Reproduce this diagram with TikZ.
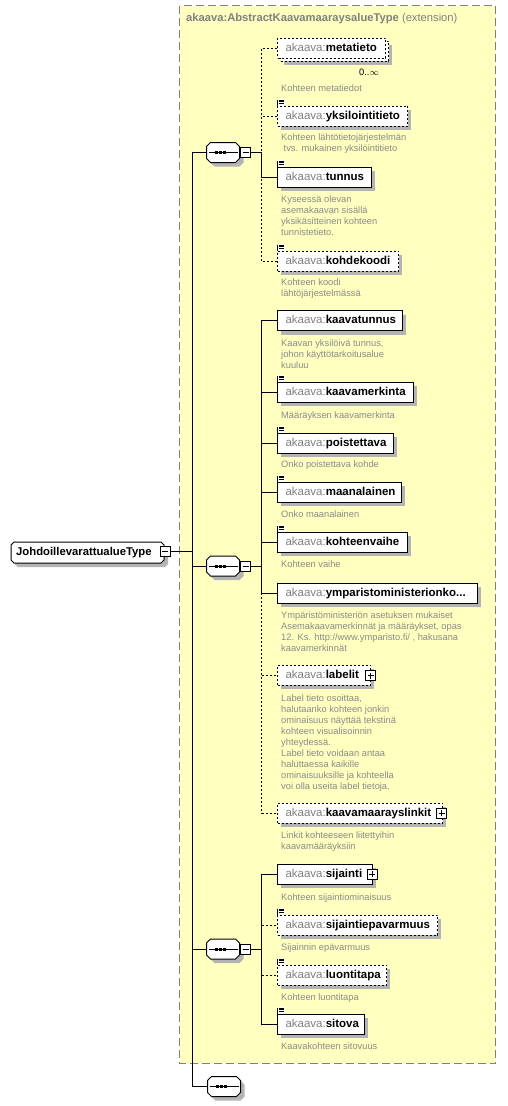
\documentclass[tikz,border=0pt]{standalone}
\usepackage{fontspec}
\setmainfont{Liberation Sans}
\definecolor{yel}{HTML}{FFFFC0}
\definecolor{bordergray}{HTML}{808080}
\definecolor{pfxgray}{HTML}{808080}
\definecolor{docgray}{HTML}{8A8A8A}
\definecolor{shadowgray}{HTML}{B4B4B4}
\newcommand\nm[1]{{\color{pfxgray}akaava:}\textbf{#1}}
\newcommand\el[2]{\makebox[#1pt][l]{\hspace*{8pt}\nm{#2}}}
% element: name, x, yc, width, style, label
\newcommand\E[6]{%
  \fill[shadowgray] ({#2+4},{#3-6}) rectangle ({#2+#4+4},{#3+14});
  \node[#5] (#1) at (#2,#3) {\el{#4}{#6}};}
\newcommand\elicon[1]{%
  \fill[white] ([xshift=0.5pt]#1.north west) rectangle ++(7.5,-6.5);
  \draw[line width=1pt] ([yshift=-0.5pt]#1.north west) -- ++(0,-6.5);
  \draw[line width=0.8pt] ([xshift=1.5pt,yshift=5.6pt]#1.north west) -- ++(5,0);
  \draw[line width=0.8pt] ([xshift=1.5pt,yshift=3.9pt]#1.north west) -- ++(5,0);
  \draw[line width=0.8pt] ([xshift=1.5pt,yshift=2.2pt]#1.north west) -- ++(5,0);}
\newcommand\minusbox[2]{\node[pm] (#1) at #2 {};
  \draw[line width=1pt] ([xshift=-3pt]#1.center) -- ([xshift=3pt]#1.center);}
\newcommand\plusbox[2]{\node[pm] (#1) at #2 {};
  \draw[line width=1pt] ([xshift=-3pt]#1.center) -- ([xshift=3pt]#1.center);
  \draw[line width=1pt] ([yshift=-3pt]#1.center) -- ([yshift=3pt]#1.center);}
% sequence compositor: name, x, y
\newcommand\seqnode[3]{%
  \node[inner sep=0pt, minimum width=33pt, minimum height=20pt] (#1) at (#2,#3) {};
  \begin{scope}[shift={(#1.center)}]
  \fill[shadowgray] (-12.5,-6) -- (-8.5,-6) -- (16.5,-6) -- (20.5,-2) -- (20.5,10) -- (16.5,14) -- (-8.5,14) -- (-12.5,10) -- cycle;
  \draw[line width=1pt, fill=white] (-16.5,-6) -- (-12.5,-10) -- (12.5,-10) -- (16.5,-6) -- (16.5,6) -- (12.5,10) -- (-12.5,10) -- (-16.5,6) -- cycle;
  \draw[line width=1pt] (-14.5,0) -- (14.5,0);
  \fill (-8,-1.5) rectangle (-5,1.5);
  \fill (-3.8,-1.5) rectangle (-0.8,1.5);
  \fill (0.4,-1.5) rectangle (3.4,1.5);
  \end{scope}}
\tikzset{
  elem/.style={draw=black, fill=white, line width=1pt, rectangle, inner sep=0pt,
    minimum height=20pt, anchor=west, font=\fontsize{11.5}{13}\selectfont,
    text height=8.5pt, text depth=2.5pt},
  optelem/.style={elem, dash pattern=on 2pt off 2pt},
  doc/.style={anchor=north west, inner sep=0pt, align=left, text=docgray,
    font=\fontsize{9.3}{11}\selectfont},
  pm/.style={draw, fill=white, line width=1pt, minimum size=10pt, inner sep=0pt},
  con/.style={line width=1pt},
  optcon/.style={line width=1pt, dash pattern=on 2pt off 2pt},
}
\begin{document}
\begin{tikzpicture}[x=1pt,y=-1pt]
\useasboundingbox (0,0) rectangle (507,1106);
% extension frame
\draw[bordergray, fill=yel, line width=1pt, dash pattern=on 8pt off 4pt] (179.5,5.5) rectangle (495.5,1063.5);
\node[anchor=west, inner sep=0pt, text=pfxgray, font=\fontsize{11.2}{13}\selectfont] (title) at (186,18.5)
  {\textbf{akaava:AbstractKaavamaaraysalueType} (extension)};
\coordinate (trunk) at (192,0);
\coordinate (br) at (261.5,0);
% root
\node[inner sep=0pt, minimum width=153pt, minimum height=21pt] (root) at (87.5,552.5) {};
\begin{scope}[shift={(root.center)}]
\fill[shadowgray] (-72.5,-6.5) -- (77.5,-6.5) -- (80.5,-3.5) -- (80.5,11.5) -- (77.5,14.5) -- (-69.5,14.5) -- (-72.5,11.5) -- cycle;
\draw[line width=1pt, fill=white] (-76.5,-7.5) -- (-73.5,-10.5) -- (73.5,-10.5) -- (76.5,-7.5) -- (76.5,7.5) -- (73.5,10.5) -- (-73.5,10.5) -- (-76.5,7.5) -- cycle;
\end{scope}
\node[anchor=west, inner sep=0pt, font=\fontsize{11.3}{13}\selectfont\bfseries] (rootlabel) at (16,552.5) {JohdoillevarattualueType};
\minusbox{rootm}{(165,551)}
% sequences
\seqnode{s1}{223}{152.5}
\minusbox{s1m}{(245.5,152.5)}
\seqnode{s2}{223}{566}
\minusbox{s2m}{(245.5,566)}
\seqnode{s3}{223}{949}
\minusbox{s3m}{(245.5,949)}
\seqnode{s4}{224}{1086.5}
% trunk connectors
\draw[con] (rootm.east) -- (rootm.east -| trunk);
\draw[con] (s1.west -| trunk) -- (s4.west -| trunk);
\draw[con] (s1.west -| trunk) -- (s1.west);
\draw[con] (s2.west -| trunk) -- (s2.west);
\draw[con] (s3.west -| trunk) -- (s3.west);
\draw[con] (s4.west -| trunk) -- (s4.west);
\draw[con] (s1m.east) -- (s1m.east -| br);
\draw[con] (s2m.east) -- (s2m.east -| br);
\draw[con] (s3m.east) -- (s3m.east -| br);
% ---- sequence 1
\fill[shadowgray] (284,45) rectangle (392,65);
\node[optelem, minimum width=108pt] (metaback) at (280,51) {};
\node[optelem] (metatieto) at (277,48) {\el{108}{metatieto}};
\node[inner sep=0pt, font=\fontsize{9.3}{11}\selectfont] (mult) at (369,72) {0..$\infty$};
\node[doc] (dmeta) at (281,84.5) {Kohteen metatiedot};
\E{yksil}{277}{116}{130}{optelem}{yksilointitieto} \elicon{yksil}
\node[doc] (dyksil) at (281,133.5) {Kohteen lähtötietojärjestelmän\\\hspace*{2.5pt}tvs. mukainen yksilöintitieto};
\E{tunnus}{277}{177}{94}{elem}{tunnus} \elicon{tunnus}
\node[doc] (dtunnus) at (281,195.5) {Kyseessä olevan\\asemakaavan sisällä\\yksikäsitteinen kohteen\\tunnistetieto.};
\E{kohdekoodi}{277}{261}{121}{optelem}{kohdekoodi} \elicon{kohdekoodi}
\node[doc] (dkohdekoodi) at (281,278.2) {Kohteen koodi\\lähtöjärjestelmässä};
\draw[optcon] (metatieto.west) -- (metatieto.west -| br) -- (s1m.east -| br);
\draw[optcon] (yksil.west) -- (yksil.west -| br);
\draw[con] (tunnus.west) -- (tunnus.west -| br) -- (s1m.east -| br);
\draw[optcon] (kohdekoodi.west) -- (kohdekoodi.west -| br) -- (tunnus.west -| br);
% ---- sequence 2
\E{kaavatunnus}{277}{320.5}{125}{elem}{kaavatunnus}
\node[doc] (dkaavatunnus) at (281,339.8) {Kaavan yksilöivä tunnus,\\johon käyttötarkoitusalue\\kuuluu};
\E{kaavamerkinta}{277}{392}{136}{elem}{kaavamerkinta} \elicon{kaavamerkinta}
\node[doc] (dkaavamerkinta) at (281,411.5) {Määräyksen kaavamerkinta};
\E{poistettava}{277}{443}{116}{elem}{poistettava} \elicon{poistettava}
\node[doc] (dpoistettava) at (281,460.8) {Onko poistettava kohde};
\E{maanalainen}{277}{492}{124}{elem}{maanalainen} \elicon{maanalainen}
\node[doc] (dmaanalainen) at (281,510.8) {Onko maanalainen};
\E{kohteenvaihe}{277}{542}{130}{elem}{kohteenvaihe} \elicon{kohteenvaihe}
\node[doc] (dkohteenvaihe) at (281,560.8) {Kohteen vaihe};
\E{ymp}{277}{593}{200}{elem}{ymparistoministerionko...}
\node[doc] (dymp) at (281,611.5) {Ympäristöministeriön asetuksen mukaiset\\Asemakaavamerkinnät ja määräykset, opas\\12. Ks. http://www.ymparisto.fi/ , hakusana\\kaavamerkinnät};
\E{labelit}{277}{675}{93}{optelem}{labelit}
\plusbox{labelitp}{(370.5,675.5)}
\node[doc] (dlabelit) at (281,694.2) {Label tieto osoittaa,\\halutaanko kohteen jonkin\\ominaisuus näyttää tekstinä\\kohteen visualisoinnin\\yhteydessä.\\Label tieto voidaan antaa\\haluttaessa kaikille\\ominaisuuksille ja kohteella\\voi olla useita label tietoja.};
\E{linkit}{277}{813}{165}{optelem}{kaavamaarayslinkit}
\plusbox{linkitp}{(441.7,813.3)}
\node[doc] (dlinkit) at (281,831.5) {Linkit kohteeseen liitettyihin\\kaavamääräyksiin};
\draw[con] (kaavatunnus.west) -- (kaavatunnus.west -| br) -- (ymp.west -| br) -- (ymp.west);
\draw[con] (kaavamerkinta.west) -- (kaavamerkinta.west -| br);
\draw[con] (poistettava.west) -- (poistettava.west -| br);
\draw[con] (maanalainen.west) -- (maanalainen.west -| br);
\draw[con] (kohteenvaihe.west) -- (kohteenvaihe.west -| br);
\draw[optcon] (ymp.west -| br) -- (linkit.west -| br) -- (linkit.west);
\draw[optcon] (labelit.west -| br) -- (labelit.west);
% ---- sequence 3
\E{sijainti}{277}{874}{95}{elem}{sijainti}
\plusbox{sijaintip}{(372.3,874)}
\node[doc] (dsijainti) at (281,893.2) {Kohteen sijaintiominaisuus};
\E{sijepa}{277}{925}{160}{optelem}{sijaintiepavarmuus} \elicon{sijepa}
\node[doc] (dsijepa) at (281,943.2) {Sijainnin epävarmuus};
\E{luontitapa}{277}{975}{109}{optelem}{luontitapa} \elicon{luontitapa}
\node[doc] (dluontitapa) at (281,993.2) {Kohteen luontitapa};
\E{sitova}{277}{1024}{87}{elem}{sitova} \elicon{sitova}
\node[doc] (dsitova) at (281,1042.5) {Kaavakohteen sitovuus};
\draw[con] (sijainti.west) -- (sijainti.west -| br) -- (sitova.west -| br) -- (sitova.west);
\draw[optcon] (sijepa.west -| br) -- (sijepa.west);
\draw[optcon] (luontitapa.west -| br) -- (luontitapa.west);
\end{tikzpicture}
\end{document}
